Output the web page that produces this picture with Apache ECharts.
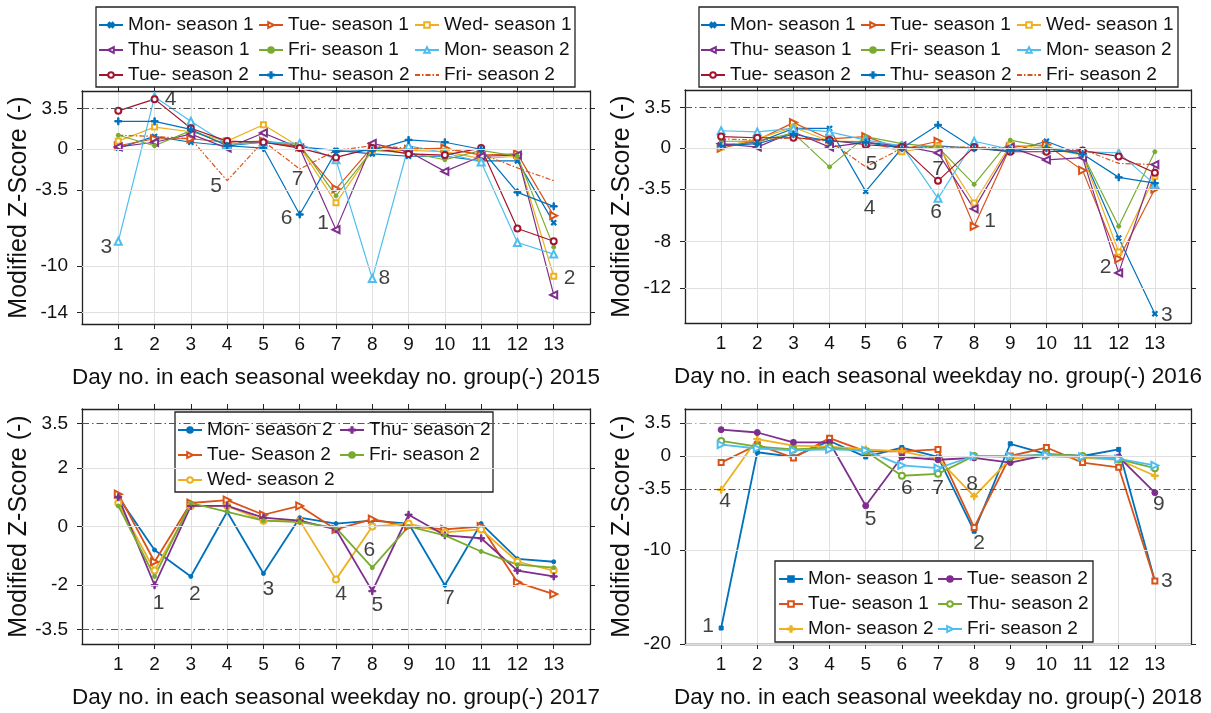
<!DOCTYPE html>
<html><head><meta charset="utf-8">
<script src="https://cdn.jsdelivr.net/npm/echarts@6/dist/echarts.min.js"></script>
<style>html,body{margin:0;padding:0;background:#fff}#c{width:1211px;height:713px}</style>
</head><body><div id="c"></div>
<script>
// ---------- DATA ----------
const days = [1,2,3,4,5,6,7,8,9,10,11,12,13];

// 2015
const y15_mon1 = [0.1, 1.1, 0.6, 0.3, 0.6, 0.2, -0.1, -0.4, -0.6, -0.6, -1.0, -1.0, -6.3];
const y15_tue1 = [0.3, 0.9, 0.9, 0.6, 0.7, 0.2, -3.4, 0.2, 0.0, 0.1, -0.5, -0.4, -5.7];
const y15_wed1 = [0.7, 1.9, 1.5, 0.7, 2.1, 0.2, -4.6, -0.1, -0.1, -0.2, -0.8, -0.6, -10.9];
const y15_thu1 = [0.2, 0.6, 1.3, 0.1, 1.4, 0.1, -6.9, 0.5, -0.2, -1.9, -0.6, -0.5, -12.5];
const y15_fri1 = [1.2, 0.3, 1.6, 0.4, 0.7, 0.4, -4.0, -0.1, -0.3, -0.9, -0.1, -0.6, -8.4];
const y15_mon2 = [-7.9, 4.5, 2.4, 0.4, 0.6, 0.5, -0.9, -11.1, 0.3, -0.3, -1.1, -8.0, -9.0];
const y15_tue2 = [3.3, 4.3, 1.8, 0.7, 0.6, 0.1, -0.7, 0.1, -0.4, -0.5, 0.1, -6.8, -7.9];
const y15_thu2 = [2.4, 2.4, 1.7, 0.3, 0.1, -5.6, -0.2, -0.1, 0.8, 0.6, 0.0, -3.7, -4.9];
const y15_fri2 = [1.2, 1.1, 0.9, -2.7, 0.7, -1.7, -0.1, 0.3, 0.1, 0.0, -0.4, -1.6, -2.7];

// 2016
const y16_mon1 = [0.3, 0.5, 1.7, 1.7, -3.7, 0.0, 0.2, 0.0, -0.3, 0.6, -0.6, -7.7, -14.2];
const y16_tue1 = [0.0, 0.7, 2.2, 0.8, 1.0, -0.1, 0.6, -6.7, 0.1, 0.3, -1.9, -9.5, -3.5];
const y16_wed1 = [0.1, 0.8, 1.8, 0.6, 0.6, -0.3, 0.2, -4.7, 0.3, 0.0, -0.6, -8.9, -2.4];
const y16_thu1 = [0.4, 0.1, 1.4, 0.1, 0.5, 0.2, -0.4, -5.2, 0.1, -1.0, -0.8, -10.7, -1.4];
const y16_fri1 = [0.6, 0.6, 1.3, -1.6, 1.0, 0.4, 0.1, -3.1, 0.7, 0.1, -0.5, -6.7, -0.3];
const y16_mon2 = [1.5, 1.4, 1.7, 1.4, 0.7, 0.2, -4.3, 0.6, -0.1, -0.1, -0.3, -0.4, -3.1];
const y16_tue2 = [1.0, 0.9, 0.9, 0.7, 0.3, 0.1, -2.8, 0.1, -0.3, -0.3, -0.2, -0.7, -2.1];
const y16_thu2 = [0.2, 0.4, 1.2, 0.6, 0.5, 0.0, 2.0, 0.0, -0.2, 0.0, -0.5, -2.5, -3.0];
const y16_fri2 = [0.8, 0.7, 0.9, 0.6, -1.6, 0.0, 0.1, 0.1, 0.0, 0.0, -0.1, -1.3, -1.4];

// 2017
const y17_mon2 = [1.0, -0.8, -1.7, 0.5, -1.6, 0.3, 0.1, 0.2, 0.1, -2.0, 0.1, -1.1, -1.2];
const y17_tue2 = [1.1, -1.2, 0.8, 0.9, 0.4, 0.7, -0.1, 0.25, 0.0, -0.1, 0.0, -1.9, -2.3];
const y17_wed2 = [0.8, -1.5, 0.7, 0.7, 0.2, 0.2, -1.8, 0.0, 0.1, -0.2, -0.1, -1.2, -1.5];
const y17_thu2 = [1.0, -2.0, 0.7, 0.7, 0.3, 0.2, -0.1, -2.2, 0.4, -0.3, -0.4, -1.5, -1.7];
const y17_fri2 = [0.7, -1.7, 0.8, 0.5, 0.2, 0.15, -0.05, -1.4, 0.0, -0.3, -0.85, -1.3, -1.4];

// 2018
const y18_mon1 = [-18.3, 0.4, -0.1, 1.6, -0.1, 0.9, -0.1, -8.0, 1.3, 0.2, 0.0, 0.7, -13.3];
const y18_tue1 = [-0.7, 1.2, -0.2, 1.9, 0.5, 0.5, 0.7, -7.6, 0.0, 0.9, -0.7, -1.2, -13.3];
const y18_mon2 = [-3.6, 1.8, 1.1, 1.0, 0.7, 0.5, -0.3, -4.3, -0.3, 0.0, -0.2, -0.4, -2.1];
const y18_tue2 = [2.8, 2.5, 1.45, 1.45, -5.3, -0.1, -0.4, -0.2, -0.7, 0.1, 0.0, -0.1, -3.9];
const y18_thu2 = [1.6, 1.0, 0.7, 0.9, 0.5, -2.1, -1.9, 0.0, -0.1, 0.2, 0.0, -0.35, -1.3];
const y18_fri2 = [1.2, 0.8, 0.6, 0.7, 0.6, -1.0, -1.3, 0.0, 0.0, 0.1, -0.1, -0.3, -1.0];

// tick labels
const yTicks15 = [3.5, 0, -3.5, -10, -14];
const yTicks16 = [3.5, 0, -3.5, -8, -12];
const yTicks17 = [3.5, 2, 0, -2, -3.5];
const yTicks18 = [3.5, 0, -3.5, -10, -20];
const yName = 'Modified Z-Score (-)';
const xTitles = ['Day no. in each seasonal weekday no. group(-) 2015',
                 'Day no. in each seasonal weekday no. group(-) 2016',
                 'Day no. in each seasonal weekday no. group(-) 2017',
                 'Day no. in each seasonal weekday no. group(-) 2018'];

// outlier annotations: [series key, day, text]
const ann15 = [['mon2',1,'3'],['tue2',2,'4'],['fri2',4,'5'],['thu2',6,'6'],['fri2',6,'7'],['thu1',7,'1'],['mon2',8,'8'],['wed1',13,'2']];
const ann16 = [['fri2',5,'5'],['mon1',5,'4'],['tue2',7,'7'],['mon2',7,'6'],['tue1',8,'1'],['thu1',12,'2'],['mon1',13,'3']];
const ann17 = [['thu2',2,'1'],['mon2',3,'2'],['mon2',5,'3'],['wed2',7,'4'],['fri2',8,'6'],['thu2',8,'5'],['mon2',10,'7']];
const ann18 = [['mon1',1,'1'],['mon2',1,'4'],['tue2',5,'5'],['thu2',6,'6'],['thu2',7,'7'],['mon2',8,'8'],['mon1',8,'2'],['tue2',13,'9'],['tue1',13,'3']];

// ---------- STYLE / LAYOUT ----------
const C = {blue:'#0072BD', orange:'#D95319', yellow:'#EDB120', purple:'#7E2F8E', green:'#77AC30', cyan:'#4DBEEE', red:'#A2142F'};
const PLUS = 'path://M4,0h2v10h-2z M0,4h10v2h-10z';
const MK = {
  x:   {symbol: PLUS, symbolSize: 6, symbolRotate: 45},
  plus:{symbol: PLUS, symbolSize: 7, symbolRotate: 0},
  tr:  {symbol: 'emptyTriangle', symbolSize: 7, symbolRotate: -90},
  tl:  {symbol: 'emptyTriangle', symbolSize: 7, symbolRotate: 90},
  tu:  {symbol: 'emptyTriangle', symbolSize: 7, symbolRotate: 0},
  sq:  {symbol: 'emptyRect', symbolSize: 5, symbolRotate: 0},
  o:   {symbol: 'emptyCircle', symbolSize: 6, symbolRotate: 0},
  dot: {symbol: 'circle', symbolSize: 4, symbolRotate: 0},
  dot6:{symbol: 'circle', symbolSize: 6, symbolRotate: 0},
  sqf: {symbol: 'rect', symbolSize: 4, symbolRotate: 0},
  none:{symbol: 'none', symbolSize: 0, symbolRotate: 0}
};

const panels = [
  { id:'p15', grid:{left:82, top:91, width:508, height:233}, ymin:-15, ymax:5, ticks:yTicks15, dark:[3.5], mid:[], lw:1.2,
    series:[['mon1','Mon- season 1',y15_mon1,'blue','x'],['tue1','Tue- season 1',y15_tue1,'orange','tr'],['wed1','Wed- season 1',y15_wed1,'yellow','sq'],
            ['thu1','Thu- season 1',y15_thu1,'purple','tl'],['fri1','Fri- season 1',y15_fri1,'green','dot'],['mon2','Mon- season 2',y15_mon2,'cyan','tu'],
            ['tue2','Tue- season 2',y15_tue2,'red','o'],['thu2','Thu- season 2',y15_thu2,'blue','plus'],['fri2','Fri- season 2',y15_fri2,'orange','none']],
    cols:[['mon1','thu1','tue2'],['tue1','fri1','thu2'],['wed1','mon2','fri2']], colLeft:[98,258,414], legTop:15, box:[96,7,479,80],
    ann: ann15, off:[[-12,6],[16,0],[-11,5],[-13,4],[-2,10],[-13,-6],[12,0],[16,2]] },
  { id:'p16', grid:{left:685, top:90, width:506, height:233}, ymin:-15, ymax:5, ticks:yTicks16, dark:[3.5], mid:[], lw:1.2,
    series:[['mon1','Mon- season 1',y16_mon1,'blue','x'],['tue1','Tue- season 1',y16_tue1,'orange','tr'],['wed1','Wed- season 1',y16_wed1,'yellow','sq'],
            ['thu1','Thu- season 1',y16_thu1,'purple','tl'],['fri1','Fri- season 1',y16_fri1,'green','dot'],['mon2','Mon- season 2',y16_mon2,'cyan','tu'],
            ['tue2','Tue- season 2',y16_tue2,'red','o'],['thu2','Thu- season 2',y16_thu2,'blue','plus'],['fri2','Fri- season 2',y16_fri2,'orange','none']],
    cols:[['mon1','thu1','tue2'],['tue1','fri1','thu2'],['wed1','mon2','fri2']], colLeft:[700,860,1016], legTop:15, box:[699,7,479,80],
    ann: ann16, off:[[6,-3],[4,17],[0,-12],[-2,14],[16,-5],[-13,-6],[12,2]] },
  { id:'p17', grid:{left:82, top:409, width:508, height:235}, ymin:-4, ymax:4, ticks:yTicks17, dark:[3.5,-3.5], mid:[], lw:1.8,
    series:[['mon2','Mon- season 2',y17_mon2,'blue','dot'],['tue2','Tue- Season 2',y17_tue2,'orange','tr'],['wed2','Wed- season 2',y17_wed2,'yellow','o'],
            ['thu2','Thu- season 2',y17_thu2,'purple','plus'],['fri2','Fri- season 2',y17_fri2,'green','dot']],
    cols:[['mon2','tue2','wed2'],['thu2','fri2']], colLeft:[177,339], legTop:420, box:[175,412,318,80],
    ann: ann17, off:[[4,18],[4,18],[5,16],[5,15],[-3,-17],[5,14],[4,13]] },
  { id:'p18', grid:{left:685, top:409, width:506, height:235}, ymin:-20, ymax:5, ticks:yTicks18, dark:[-3.5], mid:[3.5], lw:1.8,
    series:[['mon1','Mon- season 1',y18_mon1,'blue','sqf'],['tue1','Tue- season 1',y18_tue1,'orange','sq'],['mon2','Mon- season 2',y18_mon2,'yellow','plus'],
            ['tue2','Tue- season 2',y18_tue2,'purple','dot6'],['thu2','Thu- season 2',y18_thu2,'green','o'],['fri2','Fri- season 2',y18_fri2,'cyan','tr']],
    cols:[['mon1','tue1','mon2'],['tue2','thu2','fri2']], colLeft:[778,937], legTop:569, box:[775,561,318,81],
    ann: ann18, off:[[-13,-2],[4,11],[5,13],[5,12],[0,14],[-2,-12],[5,12],[4,12],[12,0]] }
];

const FONT = 'Liberation Sans, Arial, Helvetica, sans-serif';
const TXT = '#111';
const option = {
  backgroundColor:'#fff', animation:false,
  textStyle:{fontFamily:FONT},
  grid:[], xAxis:[], yAxis:[], series:[], legend:[], graphic:[]
};

panels.forEach((p, gi) => {
  option.grid.push(Object.assign({containLabel:false}, p.grid));
  const axLine = {show:true, onZero:false, lineStyle:{color:'#222', width:1.3}};
  const tick = {show:true, inside:false, length:5, lineStyle:{color:'#222', width:1}};
  const xb = option.xAxis.length;
  option.xAxis.push({gridIndex:gi, type:'value', min:0, max:14, interval:1, position:'bottom',
    axisLine:axLine, axisTick:Object.assign({customValues:days}, tick),
    axisLabel:{customValues:days, fontSize:19, color:TXT, margin:11},
    splitLine:{show:true, lineStyle:{color:'#e0e0e0', width:1}},
    name:xTitles[gi], nameLocation:'middle', nameGap:42, nameTextStyle:{fontSize:22.5, color:TXT}});
  option.xAxis.push({gridIndex:gi, type:'value', min:0, max:14, interval:1, position:'top',
    axisLine:axLine, axisTick:Object.assign({customValues:days}, tick), axisLabel:{show:false}, splitLine:{show:false}});
  const yl = option.yAxis.length;
  option.yAxis.push({gridIndex:gi, type:'value', min:p.ymin, max:p.ymax, position:'left',
    axisLine:axLine, axisTick:Object.assign({customValues:p.ticks}, tick),
    axisLabel:{customValues:p.ticks, fontSize:19, color:TXT, margin:14},
    splitLine:{show:false},
    name:yName, nameLocation:'middle', nameGap:44, nameTextStyle:{fontSize:25, color:TXT}});
  option.yAxis.push({gridIndex:gi, type:'value', min:p.ymin, max:p.ymax, position:'right',
    axisLine:axLine, axisTick:Object.assign({customValues:p.ticks}, tick), axisLabel:{show:false}, splitLine:{show:false}});

  // horizontal grid lines at tick values
  option.series.push({type:'line', name:p.id+'|grid', xAxisIndex:xb, yAxisIndex:yl, data:[], z:1, silent:true,
    markLine:{silent:true, symbol:'none', label:{show:false}, animation:false,
      data:p.ticks.map(v => ({yAxis:v, lineStyle: p.dark.includes(v) ? {type:[7,3,1.5,3], color:'#555', width:1}
                                         : p.mid.includes(v) ? {type:[7,3,1.5,3], color:'#aaa', width:1}
                                         : {type:'solid', color:'#e0e0e0', width:1}}))}});

  const byKey = {};
  p.series.forEach(([key, label, vals, col, mk]) => {
    byKey[key] = vals;
    const m = MK[mk];
    const color = C[col];
    option.series.push({
      type:'line', name:p.id+'|'+label, xAxisIndex:xb, yAxisIndex:yl,
      data: days.map((d,i) => [d, vals[i]]),
      symbol:m.symbol, symbolSize:m.symbolSize, symbolRotate:m.symbolRotate, showSymbol: mk!=='none',
      color: color,
      lineStyle:{color:color, width: mk==='none' ? 1.2 : p.lw, type: mk==='none' ? [5,2,1.5,2] : 'solid'},
      itemStyle:{color:color, borderColor:color, borderWidth:1},
      z:3, silent:true
    });
  });

  // annotations
  option.series.push({type:'scatter', name:p.id+'|ann', xAxisIndex:xb, yAxisIndex:yl, z:10, silent:true,
    symbolSize:1, itemStyle:{color:'rgba(0,0,0,0)'},
    data:p.ann.map((a, k) => ({value:[a[1], byKey[a[0]][a[1]-1]],
      label:{show:true, position:'inside', formatter:a[2], offset:p.off[k], fontSize:21, color:TXT, fontFamily:FONT}}))});

  // legend box
  option.graphic.push({type:'rect', z:5, silent:true,
    shape:{x:p.box[0], y:p.box[1], width:p.box[2], height:p.box[3]},
    style:{fill:'#fff', stroke:'#222', lineWidth:1.3}});
  const info = {};
  p.series.forEach(s => info[s[0]] = {name:p.id+'|'+s[1], none:s[4]==='none'});
  p.cols.forEach((col, ci) => {
    option.legend.push({orient:'vertical', left:p.colLeft[ci], top:p.legTop, padding:0, itemGap:5,
      itemWidth:24, itemHeight:7, z:6, selectedMode:false,
      textStyle:{fontSize:19, lineHeight:20, color:TXT, fontFamily:FONT},
      formatter: n => n.split('|')[1],
      data: col.map(k => info[k].none ? {name:info[k].name, itemStyle:{opacity:0}} : info[k].name)});
  });
});

const chart = echarts.init(document.getElementById('c'), null, {renderer:'canvas'});
chart.setOption(option);
</script></body></html>
